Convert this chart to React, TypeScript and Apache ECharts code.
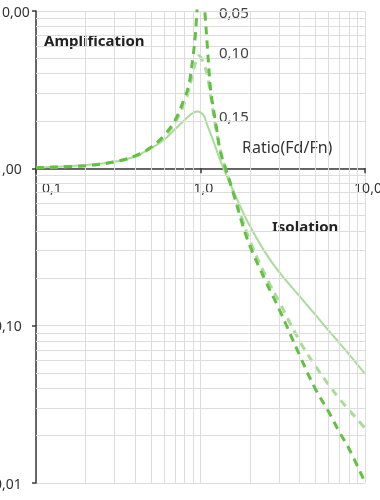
import React, { useEffect, useRef } from "react";
import * as echarts from "echarts";

// Frequency ratio Fd/Fn and transmissibility readings per curve
const ratio015 = [0.1, 0.2, 0.3, 0.4, 0.5, 0.6, 0.7, 0.8, 0.85, 0.9, 0.95, 1.0, 1.05, 1.1, 1.2, 1.3, 1.38, 1.6, 1.8, 2.0, 2.5, 3, 4, 5, 6, 7, 8, 10];
const trans015 = [1.01, 1.05, 1.1, 1.19, 1.34, 1.52, 1.77, 2.03, 2.15, 2.25, 2.3, 2.27, 2.15, 1.88, 1.48, 1.17, 1.0, 0.7, 0.535, 0.429, 0.287, 0.22, 0.154, 0.117, 0.0933, 0.0775, 0.0657, 0.0494];

const ratio010 = [0.1, 0.2, 0.3, 0.4, 0.5, 0.6, 0.7, 0.8, 0.85, 0.9, 0.95, 0.98, 1.0, 1.05, 1.1, 1.15, 1.2, 1.3, 1.42, 1.6, 1.8, 2.0, 2.5, 3, 4, 5, 6, 7, 8, 10];
const trans010 = [1.01, 1.04, 1.1, 1.19, 1.35, 1.58, 1.95, 2.6, 3.15, 4.1, 4.95, 5.2, 5.1, 4.6, 3.9, 2.95, 2.2, 1.4, 1.0, 0.69, 0.47, 0.345, 0.205, 0.143, 0.08, 0.0553, 0.0423, 0.0342, 0.0291, 0.0223];

const ratio005 = [0.1, 0.2, 0.3, 0.4, 0.5, 0.6, 0.7, 0.8, 0.85, 0.9, 0.93, 0.96, 1.0, 1.04, 1.07, 1.1, 1.15, 1.2, 1.25, 1.32, 1.42, 1.6, 1.8, 2.0, 2.5, 3, 4, 5, 6, 7, 8, 10];
const trans005 = [1.01, 1.04, 1.1, 1.2, 1.36, 1.62, 2.02, 2.8, 3.4, 5.1, 7.0, 11.5, 20, 13, 9.0, 6.0, 3.2, 2.36, 1.82, 1.28, 1.0, 0.67, 0.44, 0.32, 0.19, 0.128, 0.065, 0.0395, 0.0285, 0.021, 0.0165, 0.0101];

// Minor grid values
const minorX = [0.2, 0.3, 0.4, 0.5, 0.6, 0.7, 0.8, 0.9, 2, 3, 4, 5, 6, 7, 8, 9];
const minorY = [0.02, 0.03, 0.04, 0.05, 0.06, 0.07, 0.08, 0.09, 0.2, 0.3, 0.4, 0.5, 0.6, 0.7, 0.8, 0.9, 2, 3, 4, 5, 6, 7, 8, 9];

const curveLabels = ["0,05", "0,10", "0,15"];
const xName = "Ratio(Fd/Fn)";
const zoneLabels = ["Amplification", "Isolation"];

const pairs = (xs: number[], ys: number[]) => xs.map((x, i) => [x, ys[i]]);

const FONT = "'Noto Sans', Roboto, sans-serif";
const LIGHT = "#a8dc98";
const DARK = "#62c043";
const GRID = "#dddddd";
const AXIS = "#3a3a3a";

export default function App() {
  const ref = useRef<HTMLDivElement>(null);
  useEffect(() => {
    if (!ref.current) return;
    const chart = echarts.init(ref.current, undefined, { renderer: "svg" });
    const gridTop = 11;
    const gridBottom = 17;
    const plotH = 500 - gridTop - gridBottom;
    const ySpan = Math.log10(10) - Math.log10(0.01);
    const xAxisOffset = -plotH * (Math.log10(1) - Math.log10(0.01)) / ySpan;

    chart.setOption({
      animation: false,
      textStyle: { fontFamily: FONT },
      grid: {
        left: 36,
        right: 15,
        top: gridTop,
        bottom: gridBottom,
        containLabel: false,
        outerBoundsMode: "none",
      },
      xAxis: {
        type: "log",
        logBase: 10,
        min: 0.1,
        max: 10,
        position: "bottom",
        offset: xAxisOffset,
        axisLine: { show: true, lineStyle: { color: AXIS, width: 1.5 } },
        axisTick: { show: true, length: 5, lineStyle: { color: AXIS, width: 1.5 } },
        axisLabel: {
          color: "#333",
          fontSize: 14,
          fontFamily: FONT,
          margin: 12,
          padding: [0, 0, 0, 6],
          alignMinLabel: "left",
          formatter: (v: number) => v.toFixed(1).replace(".", ","),
        },
        splitLine: { show: true, lineStyle: { color: GRID, width: 1 } },
      },
      yAxis: {
        type: "log",
        logBase: 10,
        min: 0.01,
        max: 10,
        axisLine: { show: true, lineStyle: { color: AXIS, width: 1.5 } },
        axisTick: { show: true, length: 4, lineStyle: { color: AXIS, width: 1.5 } },
        axisLabel: {
          color: "#333",
          fontSize: 14,
          fontFamily: FONT,
          margin: 42,
          align: "left",
          padding: [6, 0, 0, 0],
          formatter: (v: number) => v.toFixed(2).replace(".", ","),
        },
        splitLine: { show: true, lineStyle: { color: GRID, width: 1 } },
      },
      series: [
        {
          type: "line",
          data: [],
          z: 1,
          silent: true,
          markLine: {
            silent: true,
            symbol: ["none", "none"],
            label: { show: false },
            lineStyle: { color: GRID, width: 1, type: "solid" },
            emphasis: { disabled: true },
            data: [
              ...minorX.map((x) => ({ xAxis: x })),
              ...minorY.map((y) => ({ yAxis: y })),
            ],
          },
        },
        {
          name: curveLabels[2],
          type: "line",
          data: pairs(ratio015, trans015),
          smooth: 0.4,
          showSymbol: false,
          z: 3,
          lineStyle: { color: LIGHT, width: 2 },
        },
        {
          name: curveLabels[1],
          type: "line",
          data: pairs(ratio010, trans010),
          smooth: 0.4,
          showSymbol: false,
          z: 4,
          lineStyle: { color: LIGHT, width: 3, type: [8, 6] },
        },
        {
          name: curveLabels[0],
          type: "line",
          data: pairs(ratio005, trans005),
          smooth: 0.4,
          showSymbol: false,
          z: 5,
          lineStyle: { color: DARK, width: 3, type: [8, 6] },
        },
      ],
      graphic: [
        { type: "text", left: 44, top: 32, style: { text: zoneLabels[0], font: `bold 15px ${FONT}`, fill: "#222" } },
        { type: "text", left: 272, top: 218, style: { text: zoneLabels[1], font: `bold 15px ${FONT}`, fill: "#222" } },
        { type: "text", left: 242, top: 139, style: { text: xName, font: `16px ${FONT}`, fill: "#333" } },
        { type: "text", left: 219, top: 4, style: { text: curveLabels[0], font: `15px ${FONT}`, fill: "#444" } },
        { type: "text", left: 219, top: 44, style: { text: curveLabels[1], font: `15px ${FONT}`, fill: "#444" } },
        { type: "text", left: 219, top: 108, style: { text: curveLabels[2], font: `15px ${FONT}`, fill: "#444" } },
      ],
    });
    return () => chart.dispose();
  }, []);
  return <div ref={ref} style={{ position: "fixed", left: 0, top: 0, width: 380, height: 500 }} />;
}
